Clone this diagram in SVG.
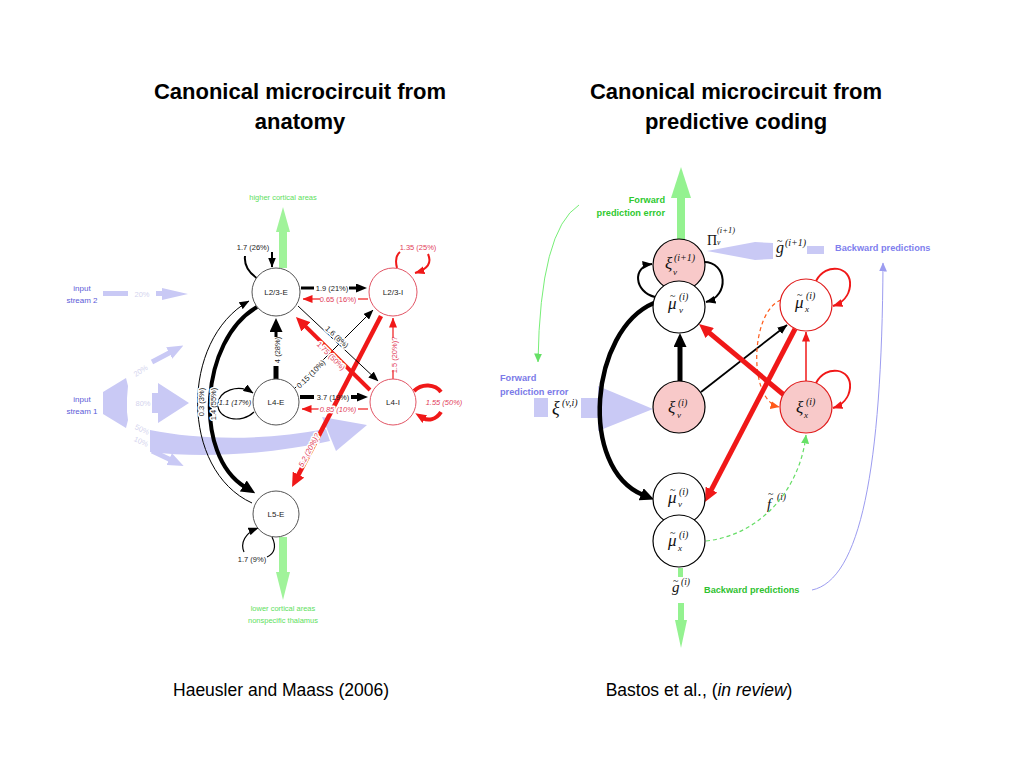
<svg xmlns="http://www.w3.org/2000/svg" width="1024" height="768" viewBox="0 0 1024 768">
<style>
.title{font-family:"Liberation Sans",Arial,sans-serif;font-weight:bold;font-size:22px;fill:#000;text-anchor:middle}
.cap{font-family:"Liberation Sans",Arial,sans-serif;font-size:17.5px;fill:#000;text-anchor:middle}
.lb{font-family:"Liberation Sans",Arial,sans-serif;font-size:7.5px;fill:#1a1a1a;text-anchor:middle}
.lr{fill:#e2405a}
.it{font-style:italic}
.halo{paint-order:stroke;stroke:#fff;stroke-width:3px;stroke-linejoin:round}
.nd{font-family:"Liberation Sans",Arial,sans-serif;font-size:8px;fill:#222;text-anchor:middle}
.node{fill:#fff;stroke:#555;stroke-width:1}
.noder{fill:#fff;stroke:#e25565;stroke-width:1}
.in{font-family:"Liberation Sans",Arial,sans-serif;font-size:8px;fill:#5b5bd8;text-anchor:middle}
.pct{font-family:"Liberation Sans",Arial,sans-serif;font-size:7.5px;fill:#d4d4ee;text-anchor:middle}
.lav{fill:#c9c9f5}
.grn{fill:#a0f39a}
.gt{font-family:"Liberation Sans",Arial,sans-serif;font-size:7.5px;fill:#5ee05e;text-anchor:middle}
.m{font-family:"Liberation Serif","DejaVu Serif",serif;font-style:italic;fill:#111}
.up{font-style:normal}
.tl{font-style:normal;font-size:10px}
.bt{font-family:"Liberation Sans",Arial,sans-serif;font-weight:bold;font-size:9.2px}
.k{fill:none;stroke:#000}
.r{fill:none;stroke:#f01818}
.pk{fill:#f8c9c9;stroke:#000;stroke-width:1.2}
.wk{fill:#fff;stroke:#000;stroke-width:1.2}
.pr{fill:#f8c9c9;stroke:#e01b1b;stroke-width:1.2}
.wr{fill:#fff;stroke:#e01b1b;stroke-width:1.2}
</style>
<defs>
<marker id="mbS" markerUnits="userSpaceOnUse" markerWidth="10" markerHeight="8" refX="9.5" refY="4" orient="auto"><path d="M0,0 L10,4 L0,8 z" fill="#000"/></marker>
<marker id="mbM" markerUnits="userSpaceOnUse" markerWidth="11" markerHeight="9" refX="2" refY="4.5" orient="auto"><path d="M0,0 L11,4.5 L0,9 z" fill="#000"/></marker>
<marker id="mbL" markerUnits="userSpaceOnUse" markerWidth="14" markerHeight="13" refX="2" refY="6.5" orient="auto"><path d="M0,0 L14,6.5 L0,13 z" fill="#000"/></marker>
<marker id="mrS" markerUnits="userSpaceOnUse" markerWidth="10" markerHeight="8" refX="9.5" refY="4" orient="auto"><path d="M0,0 L10,4 L0,8 z" fill="#f01818"/></marker>
<marker id="mrM" markerUnits="userSpaceOnUse" markerWidth="11" markerHeight="9" refX="2" refY="4.5" orient="auto"><path d="M0,0 L11,4.5 L0,9 z" fill="#f01818"/></marker>
<marker id="mrL" markerUnits="userSpaceOnUse" markerWidth="14" markerHeight="13" refX="2" refY="6.5" orient="auto"><path d="M0,0 L14,6.5 L0,13 z" fill="#f01818"/></marker>
<marker id="mg" markerUnits="userSpaceOnUse" markerWidth="9" markerHeight="8" refX="8.5" refY="4" orient="auto"><path d="M0,0 L9,4 L0,8 z" fill="#66e066"/></marker>
<marker id="mo" markerUnits="userSpaceOnUse" markerWidth="9" markerHeight="8" refX="8.5" refY="4" orient="auto"><path d="M0,0 L9,4 L0,8 z" fill="#ff5a1a"/></marker>
<marker id="ml" markerUnits="userSpaceOnUse" markerWidth="9" markerHeight="8" refX="8.5" refY="4" orient="auto"><path d="M0,0 L9,4 L0,8 z" fill="#9c9cf0"/></marker>
<marker id="mlav" markerUnits="userSpaceOnUse" markerWidth="16" markerHeight="13" refX="2" refY="6.5" orient="auto"><path d="M0,0 L16,6.5 L0,13 z" fill="#c9c9f5"/></marker>
</defs>
<rect width="1024" height="768" fill="#fff"/>

<text class="title" x="300" y="99">Canonical microcircuit from</text>
<text class="title" x="300" y="129">anatomy</text>
<text class="title" x="736" y="99">Canonical microcircuit from</text>
<text class="title" x="736" y="129">predictive coding</text>
<text class="cap" x="281" y="696">Haeusler and Maass (2006)</text>
<text class="cap" x="699" y="696">Bastos et al., (<tspan font-style="italic">in review</tspan>)</text>

<!-- ============ LEFT: anatomy ============ -->
<g id="left-inputs">
  <text class="in" x="82" y="291">input</text>
  <text class="in" x="82" y="303">stream 2</text>
  <rect class="lav" x="103" y="291" width="25" height="5"/>
  <text class="pct" x="142" y="297">20%</text>
  <path class="lav" d="M156,291 L162,291 L162,288 L188,294 L162,300 L162,296 L156,296 Z"/>

  <text class="in" x="82" y="402">input</text>
  <text class="in" x="82" y="414">stream 1</text>
  <path class="lav" d="M103,392 L126,378 L128,386 L127,398 L127,412 L128,420 L126,428 L103,414 Z"/>
  <text class="pct" transform="translate(142,373) rotate(-33)">20%</text>
  <line x1="152" y1="362" x2="171" y2="352" stroke="#c9c9f5" stroke-width="5" marker-end="url(#mlav)"/>
  <text class="pct" x="143" y="406">80%</text>
  <path class="lav" d="M152,393 L158,393 L158,383 L189,403 L158,423 L158,413 L152,413 Z"/>
  <text class="pct" transform="translate(141,432) rotate(25)">50%</text>
  <text class="pct" transform="translate(140,444) rotate(25)">10%</text>
  <line x1="152" y1="451" x2="171" y2="460" stroke="#c9c9f5" stroke-width="5" marker-end="url(#mlav)"/>
  <path class="lav" d="M150,430 C200,440 262,441 326,429 L330,441 C268,455 200,458 150,452 Z"/>
  <polygon class="lav" points="322,417 367,425 336,451"/>
</g>

<g id="left-outputs">
  <rect class="grn" x="279" y="232" width="8" height="36"/>
  <polygon class="grn" points="276,232 283,207 290,232"/>
  <text class="gt" x="283" y="200">higher cortical areas</text>
  <rect class="grn" x="279" y="537" width="8" height="35"/>
  <polygon class="grn" points="276,572 283,600 290,572"/>
  <text class="gt" x="283" y="611">lower cortical areas</text>
  <text class="gt" x="283" y="623">nonspecific thalamus</text>
</g>

<g id="left-connectors">
  <path class="k" stroke-width="1" d="M252,503 C180,470 180,340 249,301" marker-end="url(#mbS)"/>
  <path class="k" stroke-width="4" d="M257,307 C200,340 193,455 245,487" marker-end="url(#mbL)"/>
  <text class="lb halo" transform="translate(201,402) rotate(-90)" dy="2.6">0.3 (3%)</text>
  <text class="lb halo" transform="translate(213,404) rotate(-90)" dy="2.6">1.4 (55%)</text>

  <path class="k" stroke-width="2" d="M258,279 C249,273 244,265 245,256"/>
  <line x1="272" y1="252" x2="272" y2="267" stroke="#000" stroke-width="2" marker-end="url(#mbS)"/>
  <text class="lb" x="253" y="250">1.7 (26%)</text>

  <path class="r" stroke-width="2" d="M397,268 C395,260 396,255 400,252"/>
  <path class="r" stroke-width="2" d="M428,254 C432,263 428,269 415,273" marker-end="url(#mrS)"/>
  <text class="lb lr" x="418" y="250">1.35 (25%)</text>

  <line x1="301" y1="288" x2="314" y2="288" stroke="#000" stroke-width="3"/>
  <line x1="349" y1="288" x2="358" y2="288" stroke="#000" stroke-width="3" marker-end="url(#mbM)"/>
  <text class="lb" x="332" y="290.5">1.9 (21%)</text>
  <line x1="368" y1="299" x2="358" y2="299" stroke="#f01818" stroke-width="1.2"/>
  <line x1="320" y1="299" x2="303" y2="299" stroke="#f01818" stroke-width="1.2" marker-end="url(#mrS)"/>
  <text class="lb lr" x="338" y="301.5">0.65 (16%)</text>

  <line x1="276" y1="379" x2="276" y2="366" stroke="#000" stroke-width="5"/>
  <line x1="276" y1="337" x2="276" y2="330" stroke="#000" stroke-width="3" marker-end="url(#mbL)"/>
  <text class="lb" transform="translate(277,350) rotate(-90)" dy="2.6">4 (28%)</text>

  <line x1="393" y1="379" x2="393" y2="370" stroke="#f01818" stroke-width="1.2"/>
  <line x1="393" y1="338" x2="393" y2="318" stroke="#f01818" stroke-width="1.2" marker-end="url(#mrS)"/>
  <text class="lb lr" transform="translate(394,355) rotate(-90)" dy="2.6">1.5 (20%)?</text>

  <line x1="295" y1="388" x2="373" y2="310" stroke="#000" stroke-width="1" marker-end="url(#mbS)"/>
  <text class="lb halo" transform="translate(311,374) rotate(-45)" dy="2.6">0.15 (10%)</text>

  <line x1="381" y1="316" x2="297.6" y2="476.4" stroke="#f01818" stroke-width="4.5" marker-end="url(#mrL)"/>
  <text class="lb lr it halo" transform="translate(309,450) rotate(-62)" dy="2.6">5.2 (20%)?</text>

  <line x1="370" y1="390" x2="304.5" y2="325.4" stroke="#f01818" stroke-width="4" marker-end="url(#mrL)"/>
  <line x1="298" y1="306" x2="378" y2="381" stroke="#000" stroke-width="1" marker-end="url(#mbS)"/>
  <text class="lb halo" transform="translate(337,337) rotate(43)" dy="2.6">1.6 (8%)</text>
  <text class="lb lr halo" transform="translate(331,356) rotate(45)" dy="2.6">1.75 (50%)</text>

  <line x1="300" y1="397" x2="314" y2="397" stroke="#000" stroke-width="4"/>
  <line x1="351" y1="397" x2="359" y2="397" stroke="#000" stroke-width="4" marker-end="url(#mbM)"/>
  <text class="lb" x="333" y="399.5">3.7 (19%)</text>
  <line x1="368" y1="409" x2="358" y2="409" stroke="#f01818" stroke-width="1.2"/>
  <line x1="320" y1="409" x2="302" y2="409" stroke="#f01818" stroke-width="1.2" marker-end="url(#mrS)"/>
  <text class="lb lr it halo" x="338" y="411.5">0.85 (10%)</text>

  <path class="k" stroke-width="1.2" d="M254,412 C242,424 217,420 218,404 C219,391 238,383 253,393" marker-end="url(#mbS)"/>
  <text class="lb it halo" x="235" y="405">1.1 (17%)</text>

  <path class="r" stroke-width="4" d="M414,391 C422,383 435,384 441,392"/>
  <path class="r" stroke-width="4" d="M441,412 C436,420 428,421 423,418" marker-end="url(#mrM)"/>
  <text class="lb lr it" x="444" y="405">1.55 (50%)</text>

  <path class="k" stroke-width="1.2" d="M272,537 C277,547 274,554 267,557"/>
  <path class="k" stroke-width="1.2" d="M244,552 C240,543 245,533 258,528" marker-end="url(#mbS)"/>
  <text class="lb" x="252" y="562">1.7 (9%)</text>
</g>

<g id="node-L23E"><circle class="node" cx="276" cy="292" r="24"/><text class="nd" x="276" y="295">L2/3-E</text></g>
<g id="node-L23I"><circle class="noder" cx="393" cy="292" r="24"/><text class="nd lr" x="393" y="295">L2/3-I</text></g>
<g id="node-L4E"><circle class="node" cx="276" cy="402" r="23"/><text class="nd" x="276" y="405">L4-E</text></g>
<g id="node-L4I"><circle class="noder" cx="393" cy="402" r="23"/><text class="nd lr" x="393" y="405">L4-I</text></g>
<g id="node-L5E"><circle class="node" cx="276" cy="514" r="23"/><text class="nd" x="276" y="517">L5-E</text></g>

<!-- ============ RIGHT: predictive coding ============ -->
<g id="right-io">
  <rect x="677" y="196" width="8" height="45" fill="#94f290"/>
  <polygon points="671,198 681,167 691,198" fill="#94f290"/>
  <text class="bt" x="665" y="202.5" text-anchor="end" fill="#2fc92f">Forward</text>
  <text class="bt" x="665" y="216" text-anchor="end" fill="#2fc92f">prediction error</text>

  <text class="bt" x="500" y="381" fill="#7b7be8">Forward</text>
  <text class="bt" x="500" y="395" fill="#7b7be8">prediction error</text>
  <rect class="lav" x="534" y="398" width="14" height="19"/>
  <text class="m"><tspan x="552" y="414" font-size="18">ξ</tspan><tspan x="562" y="406" font-size="10">(v,i)</tspan></text>
  <rect class="lav" x="581" y="398" width="20" height="20"/>
  <polygon class="lav" points="598,386 653,409 598,431"/>

  <polygon class="lav" points="707,251 755,242 773,243 773,259 755,260"/>
  <text class="m"><tspan x="776" y="253" font-size="16">g</tspan><tspan class="tl" x="777" y="244">~</tspan><tspan x="785" y="246" font-size="10">(i+1)</tspan></text>
  <rect class="lav" x="807" y="246" width="17" height="8"/>
  <text class="m"><tspan class="up" x="707" y="245" font-size="14">Π</tspan><tspan x="717" y="233" font-size="8.5">(i+1)</tspan><tspan x="717" y="245" font-size="7.5">v</tspan></text>
  <text class="bt" x="835" y="251" fill="#8080ee">Backward predictions</text>

  <rect x="678" y="568" width="5" height="9" fill="#94f290"/>
  <text class="m"><tspan x="672" y="592" font-size="15">g</tspan><tspan class="tl" x="673" y="584">~</tspan><tspan x="681" y="585" font-size="9.5">(i)</tspan></text>
  <rect x="678" y="603" width="6" height="18" fill="#94f290"/>
  <polygon points="675,620 681,648 687,620" fill="#94f290"/>
  <text class="bt" x="704" y="593" fill="#2fc22f">Backward predictions</text>

  <text class="m"><tspan x="767" y="509" font-size="15">f</tspan><tspan class="tl" x="768" y="497">~</tspan><tspan x="777" y="500" font-size="9.5">(i)</tspan></text>
</g>

<g id="right-connectors">
  <path fill="none" stroke="#77ee77" stroke-width="1" d="M579,205 Q540,230 538,362" marker-end="url(#mg)"/>
  <path fill="none" stroke="#9c9cf0" stroke-width="1" d="M812,590 C860,580 882,470 883,263" marker-end="url(#ml)"/>
  <path class="k" stroke-width="4.5" d="M654,303 C590,330 578,468 643,495" marker-end="url(#mbL)"/>
  <path class="k" stroke-width="2" d="M655,297 C634,292 632,266 652,264" marker-end="url(#mbS)"/>
  <path class="k" stroke-width="2" d="M704,262 C727,262 730,296 706,302" marker-end="url(#mbS)"/>
  <line x1="680" y1="381" x2="680" y2="345" stroke="#000" stroke-width="5" marker-end="url(#mbL)"/>
  <line x1="701" y1="392" x2="787" y2="325" stroke="#000" stroke-width="1.8" marker-end="url(#mbS)"/>
  <path fill="none" stroke="#ff5a1a" stroke-width="1.2" stroke-dasharray="4,3" d="M781,300 C750,312 748,400 779,407" marker-end="url(#mo)"/>
  <path fill="none" stroke="#66dd66" stroke-width="1.2" stroke-dasharray="4,3" d="M706,541 C760,535 800,490 806,435" marker-end="url(#mg)"/>
  <line x1="784" y1="395" x2="708.2" y2="331.8" stroke="#f01818" stroke-width="5" marker-end="url(#mrL)"/>
  <line x1="795" y1="329" x2="710.5" y2="491.4" stroke="#f01818" stroke-width="5" marker-end="url(#mrL)"/>
  <line x1="806" y1="381" x2="806" y2="332" stroke="#f01818" stroke-width="1.5" marker-end="url(#mrS)"/>
  <path class="r" stroke-width="2" d="M816,281 C826,262 852,266 850,286 C849,296 842,303 833,306" marker-end="url(#mrS)"/>
  <path class="r" stroke-width="2" d="M816,383 C826,364 852,368 850,388 C849,398 842,405 833,408" marker-end="url(#mrS)"/>
</g>

<g id="node-xi-v-i1"><circle class="pk" cx="679" cy="265" r="26"/>
  <text class="m"><tspan x="665" y="269" font-size="17">ξ</tspan><tspan x="674" y="261" font-size="10">(i+1)</tspan><tspan x="673" y="275" font-size="9">v</tspan></text></g>
<g id="node-mu-v-top"><circle class="wk" cx="679" cy="307" r="26"/>
  <text class="m"><tspan x="668" y="309" font-size="17">μ</tspan><tspan class="tl" x="670" y="299">~</tspan><tspan x="679" y="300" font-size="10">(i)</tspan><tspan x="679" y="313" font-size="9">v</tspan></text></g>
<g id="node-xi-v"><circle class="pk" cx="679" cy="407" r="26"/>
  <text class="m"><tspan x="668" y="413" font-size="17">ξ</tspan><tspan x="678" y="406" font-size="10">(i)</tspan><tspan x="677" y="418" font-size="9">v</tspan></text></g>
<g id="node-mu-x-top"><circle class="wr" cx="806" cy="305" r="26"/>
  <text class="m"><tspan x="795" y="308" font-size="17">μ</tspan><tspan class="tl" x="797" y="298">~</tspan><tspan x="806" y="299" font-size="10">(i)</tspan><tspan x="805" y="312" font-size="9">x</tspan></text></g>
<g id="node-xi-x"><circle class="pr" cx="806" cy="407" r="26"/>
  <text class="m"><tspan x="796" y="413" font-size="17">ξ</tspan><tspan x="806" y="405" font-size="10">(i)</tspan><tspan x="804" y="418" font-size="9">x</tspan></text></g>
<g id="node-mu-v-bot"><circle class="wk" cx="679" cy="499" r="26"/>
  <text class="m"><tspan x="668" y="503" font-size="17">μ</tspan><tspan class="tl" x="670" y="493">~</tspan><tspan x="679" y="495" font-size="10">(i)</tspan><tspan x="678" y="507" font-size="9">v</tspan></text></g>
<g id="node-mu-x-bot"><circle class="wk" cx="679" cy="541" r="26"/>
  <text class="m"><tspan x="668" y="546" font-size="17">μ</tspan><tspan class="tl" x="670" y="536">~</tspan><tspan x="679" y="538" font-size="10">(i)</tspan><tspan x="678" y="551" font-size="9">x</tspan></text></g>
</svg>
